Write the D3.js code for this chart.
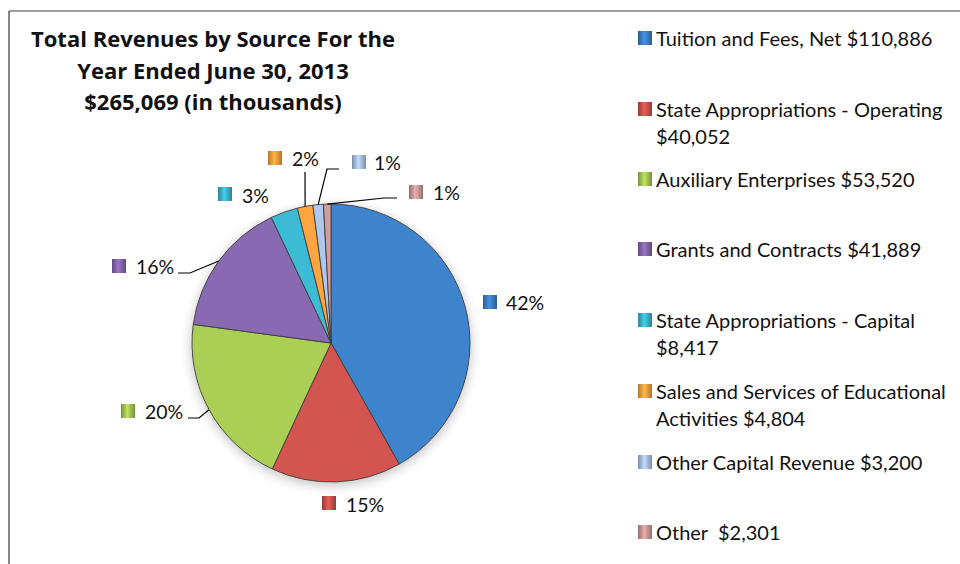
<!DOCTYPE html>
<html>
<head>
<meta charset="utf-8">
<script src="https://cdn.jsdelivr.net/npm/d3@7"></script>
<style>
  html, body { margin: 0; padding: 0; background: #fff; }
  svg { display: block; }
  text { font-family: Lato, "Open Sans", sans-serif; fill: #111; }
</style>
</head>
<body>
<svg id="chart" width="960" height="564"></svg>
<script>
// ---------- data ----------
const categories = [
  "Tuition and Fees, Net",
  "State Appropriations - Operating",
  "Auxiliary Enterprises",
  "Grants and Contracts",
  "State Appropriations - Capital",
  "Sales and Services of Educational Activities",
  "Other Capital Revenue",
  "Other"
];
const values = [110886, 40052, 53520, 41889, 8417, 4804, 3200, 2301];
const colors = ["#3a7bbf", "#c44f4a", "#9fc04f", "#7f62a6", "#3aaec6", "#f29a3c", "#a3bade", "#c49391"];
const legendLines = [
  ["Tuition and Fees, Net $110,886"],
  ["State Appropriations - Operating", "$40,052"],
  ["Auxiliary Enterprises $53,520"],
  ["Grants and Contracts $41,889"],
  ["State Appropriations - Capital", "$8,417"],
  ["Sales and Services of Educational", "Activities $4,804"],
  ["Other Capital Revenue $3,200"],
  ["Other  $2,301"]
];
const titleLines = [
  "Total Revenues by Source For the",
  "Year Ended June 30, 2013",
  "$265,069 (in thousands)"
];

// ---------- layout ----------
const W = 960, H = 564;
const cx = 331, cy = 343, R = 139;
// label placement per slice: marker top-left, text x, baseline, leader elbow points
const labelLayout = [
  { mx: 483, my: 295, tx: 506, ty: 310, leader: null },
  { mx: 322, my: 496, tx: 346, ty: 512, leader: null },
  { mx: 121, my: 404, tx: 145, ty: 419, leader: [[188, 418], [199, 418]] },
  { mx: 112, my: 259, tx: 136, ty: 274, leader: [[178, 273], [190, 273]] },
  { mx: 218, my: 187, tx: 242, ty: 203, leader: null },
  { mx: 268, my: 151, tx: 292, ty: 166, leader: [[305, 172]] },
  { mx: 352, my: 155, tx: 374, ty: 170, leader: [[339, 169], [327, 169]] },
  { mx: 409, my: 185, tx: 433, ty: 200, leader: [[397, 198], [384, 198]] }
];
const legendX = 638, legendTextX = 656;
const legendBaselines = [46, 117, 187, 257, 328, 399, 470, 540];
const legendLineH = 26.5;

const svg = d3.select("#chart");
const defs = svg.append("defs");

// marker gradients (horizontal, dark edges, light centre) and slice gradients
colors.forEach((c, i) => {
  const g = defs.append("linearGradient").attr("id", "mk" + i)
    .attr("x1", "0%").attr("x2", "100%").attr("y1", "0%").attr("y2", "0%");
  const dark = d3.color(c).darker(0.8).formatHex();
  const light = d3.color(c).brighter(0.5).formatHex();
  g.append("stop").attr("offset", "0%").attr("stop-color", dark);
  g.append("stop").attr("offset", "45%").attr("stop-color", light);
  g.append("stop").attr("offset", "100%").attr("stop-color", dark);
  const rg = defs.append("radialGradient").attr("id", "sl" + i)
    .attr("gradientUnits", "userSpaceOnUse")
    .attr("cx", cx).attr("cy", cy).attr("r", R);
  rg.append("stop").attr("offset", "0%").attr("stop-color", d3.color(c).darker(0.15).formatHex());
  rg.append("stop").attr("offset", "88%").attr("stop-color", c);
  rg.append("stop").attr("offset", "100%").attr("stop-color", d3.color(c).brighter(0.2).formatHex());
});

const shadow = defs.append("filter").attr("id", "shadow")
  .attr("x", "-20%").attr("y", "-20%").attr("width", "140%").attr("height", "140%");
shadow.append("feGaussianBlur").attr("in", "SourceAlpha").attr("stdDeviation", 6).attr("result", "b");
shadow.append("feOffset").attr("in", "b").attr("dx", 0).attr("dy", 3).attr("result", "o");
shadow.append("feComponentTransfer").attr("in", "o").attr("result", "s")
  .append("feFuncA").attr("type", "linear").attr("slope", 0.25);
const merge = shadow.append("feMerge");
merge.append("feMergeNode").attr("in", "s");
merge.append("feMergeNode").attr("in", "SourceGraphic");

// frame
svg.append("line").attr("x1", 9).attr("y1", 11).attr("x2", W).attr("y2", 11)
  .attr("stroke", "#808080").attr("stroke-width", 1.5);
svg.append("line").attr("x1", 9).attr("y1", 11).attr("x2", 9).attr("y2", H)
  .attr("stroke", "#333").attr("stroke-width", 1.2);

// title
svg.append("g").selectAll("text").data(titleLines).join("text")
  .attr("x", 213).attr("y", (d, i) => 47 + i * 31.5)
  .attr("text-anchor", "middle")
  .style("font-family", "'Open Sans', Lato, sans-serif")
  .style("font-weight", "bold").style("font-size", "22px")
  .text(d => d);

// pie
const total = d3.sum(values);
const pie = d3.pie().sort(null).value(d => d)(values);
const arc = d3.arc().innerRadius(0).outerRadius(R);
const pieG = svg.append("g").attr("transform", `translate(${cx},${cy})`);
pieG.append("g").attr("filter", "url(#shadow)")
  .selectAll("path").data(pie).join("path")
  .attr("d", arc)
  .attr("fill", (d, i) => `url(#sl${i})`)
  .attr("stroke", "#3c3c3c").attr("stroke-width", 0.9).attr("stroke-linejoin", "round");

// percent labels
const pct = v => Math.round(v / total * 100) + "%";
const lab = svg.append("g");
pie.forEach((d, i) => {
  const L = labelLayout[i];
  if (L.leader) {
    const mid = (d.startAngle + d.endAngle) / 2;
    const edge = [cx + R * Math.sin(mid), cy - R * Math.cos(mid)];
    const pts = L.leader.concat([edge]);
    lab.append("path").attr("d", d3.line()(pts))
      .attr("fill", "none").attr("stroke", "#000").attr("stroke-width", 1.2);
  }
  lab.append("rect").attr("x", L.mx).attr("y", L.my).attr("width", 14).attr("height", 14)
    .attr("fill", `url(#mk${i})`);
  lab.append("text").attr("x", L.tx).attr("y", L.ty)
    .style("font-size", "19.5px").text(pct(d.data));
});

// legend
const leg = svg.append("g");
legendLines.forEach((lines, i) => {
  const b = legendBaselines[i];
  leg.append("rect").attr("x", legendX).attr("y", b - 15).attr("width", 14).attr("height", 14)
    .attr("fill", `url(#mk${i})`);
  const t = leg.append("text").attr("x", legendTextX).attr("y", b)
    .style("font-size", "20px").attr("xml:space", "preserve").style("white-space", "pre");
  lines.forEach((ln, j) => {
    t.append("tspan").attr("x", legendTextX).attr("y", b + j * legendLineH).text(ln);
  });
});
</script>
</body>
</html>
